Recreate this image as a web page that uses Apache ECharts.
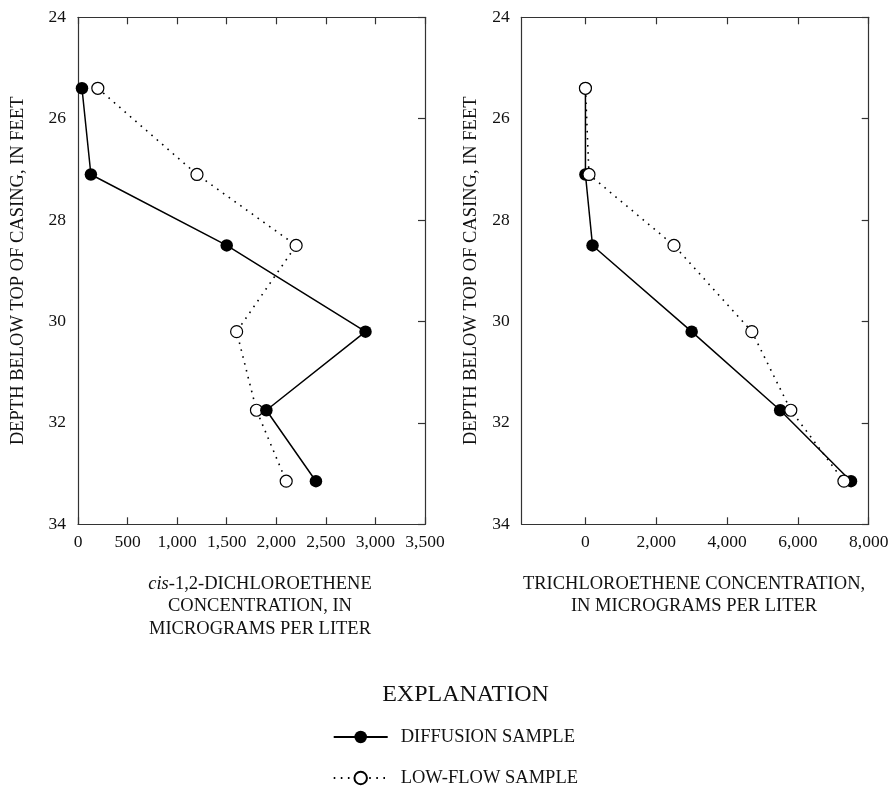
<!DOCTYPE html>
<html>
<head>
<meta charset="utf-8">
<script src="https://cdn.jsdelivr.net/npm/echarts@6/dist/echarts.min.js"></script>
<style>
html,body{margin:0;padding:0;background:#fff;}
#chart{width:893px;height:792px;}
</style>
</head>
<body>
<div id="chart"></div>
<script>
// ---- data ----
var depths = [25.4, 27.1, 28.5, 30.2, 31.75, 33.15];
var dceDiffusion = [40, 130, 1500, 2900, 1900, 2400];
var dceLowFlow = [200, 1200, 2200, 1600, 1800, 2100];
var tceDiffusion = [0, 0, 200, 3000, 5500, 7500];
var tceLowFlow = [0, 100, 2500, 4700, 5800, 7300];
var depthTicks = [24, 26, 28, 30, 32, 34];
var dceTicks = [0, 500, 1000, 1500, 2000, 2500, 3000, 3500];
var tceTicks = [0, 2000, 4000, 6000, 8000];
var seriesNames = ['DIFFUSION SAMPLE', 'LOW-FLOW SAMPLE'];

var FONT = 'Liberation Serif, Times New Roman, serif';
var AX = '#333';

function pairs(xs) { return xs.map(function (x, i) { return [x, depths[i]]; }); }
function fmt(v) { return Number(v).toLocaleString('en-US'); }

function xAxisBottom(gi, min, max, ticks) {
  return {
    gridIndex: gi, type: 'value', position: 'bottom', min: min, max: max,
    axisLine: { show: true, onZero: false, lineStyle: { color: AX, width: 1.2 } },
    axisTick: { show: true, inside: true, length: 7, customValues: ticks, lineStyle: { color: AX, width: 1.2 } },
    axisLabel: { show: true, margin: 9, customValues: ticks, formatter: fmt, color: '#111', fontFamily: FONT, fontSize: 17.5 },
    splitLine: { show: false }
  };
}
function xAxisTop(gi, min, max, ticks) {
  return {
    gridIndex: gi, type: 'value', position: 'top', min: min, max: max,
    axisLine: { show: true, onZero: false, lineStyle: { color: AX, width: 1.2 } },
    axisTick: { show: true, inside: true, length: 7, customValues: ticks, lineStyle: { color: AX, width: 1.2 } },
    axisLabel: { show: false, customValues: ticks },
    splitLine: { show: false }
  };
}
function yAxisLeft(gi, nameGap) {
  return {
    gridIndex: gi, type: 'value', position: 'left', inverse: true, min: 24, max: 34,
    name: 'DEPTH BELOW TOP OF CASING, IN FEET', nameLocation: 'middle', nameRotate: 90, nameGap: nameGap,
    nameTextStyle: { fontFamily: FONT, fontSize: 18.5, color: '#111' },
    axisLine: { show: true, onZero: false, lineStyle: { color: AX, width: 1.2 } },
    axisTick: { show: false, customValues: depthTicks },
    axisLabel: { show: true, margin: 12, customValues: depthTicks, color: '#111', fontFamily: FONT, fontSize: 17.5 },
    splitLine: { show: false }
  };
}
function yAxisRight(gi) {
  return {
    gridIndex: gi, type: 'value', position: 'right', inverse: true, min: 24, max: 34,
    axisLine: { show: true, onZero: false, lineStyle: { color: AX, width: 1.2 } },
    axisTick: { show: true, inside: true, length: 7, customValues: depthTicks, lineStyle: { color: AX, width: 1.2 } },
    axisLabel: { show: false, customValues: depthTicks },
    splitLine: { show: false }
  };
}

function diffusionSeries(xi, yi, data) {
  return {
    name: seriesNames[0], type: 'line', xAxisIndex: xi, yAxisIndex: yi, data: data,
    symbol: 'circle', symbolSize: 12.5, silent: true, animation: false,
    itemStyle: { color: '#000' },
    lineStyle: { color: '#000', width: 1.5, type: 'solid' }
  };
}
function lowFlowSeries(xi, yi, data) {
  return {
    name: seriesNames[1], type: 'line', xAxisIndex: xi, yAxisIndex: yi, data: data,
    symbol: 'circle', symbolSize: 12, silent: true, animation: false,
    itemStyle: { color: '#fff', borderColor: '#000', borderWidth: 1.2 },
    lineStyle: { color: '#000', width: 1.6, type: [1.6, 5.5] }
  };
}

function legendFor(name, top) {
  return {
    data: [name],
    orient: 'vertical',
    left: 332.7,
    top: top,
    itemWidth: 54,
    itemHeight: 15.6,
    selectedMode: false,
    padding: 0,
    textStyle: { fontFamily: FONT, fontSize: 18.5, color: '#111', padding: [0, 0, 0, 8] }
  };
}

var chart = echarts.init(document.getElementById('chart'), null, { renderer: 'canvas' });
var option = {
  backgroundColor: '#fff',
  animation: false,
  grid: [
    { left: 78, top: 17.3, width: 347, height: 507 },
    { left: 521.7, top: 17.3, width: 347, height: 507 }
  ],
  xAxis: [
    xAxisBottom(0, 0, 3500, dceTicks),
    xAxisTop(0, 0, 3500, dceTicks),
    xAxisBottom(1, -1800, 8000, tceTicks),
    xAxisTop(1, -1800, 8000, tceTicks)
  ],
  yAxis: [
    yAxisLeft(0, 50),
    yAxisRight(0),
    yAxisLeft(1, 41),
    yAxisRight(1)
  ],
  legend: [
    legendFor(seriesNames[0], 727.5),
    legendFor(seriesNames[1], 768.5)
  ],
  graphic: [
    {
      type: 'text', x: 260, y: 572.7, silent: true,
      style: {
        text: '{i|cis}-1,2-DICHLOROETHENE\nCONCENTRATION, IN\nMICROGRAMS PER LITER',
        align: 'center', verticalAlign: 'top', lineHeight: 22.6,
        fontFamily: FONT, fontSize: 18.5, fill: '#111',
        rich: { i: { fontStyle: 'italic', fontFamily: FONT, fontSize: 18.5, lineHeight: 22.6 } }
      }
    },
    {
      type: 'text', x: 694, y: 572.7, silent: true,
      style: {
        text: 'TRICHLOROETHENE CONCENTRATION,\nIN MICROGRAMS PER LITER',
        align: 'center', verticalAlign: 'top', lineHeight: 22.6,
        fontFamily: FONT, fontSize: 18.5, fill: '#111'
      }
    },
    {
      type: 'text', x: 465.5, y: 695, silent: true,
      style: {
        text: 'EXPLANATION', align: 'center', verticalAlign: 'middle',
        fontFamily: FONT, fontSize: 24, fill: '#111'
      }
    }
  ],
  series: [
    lowFlowSeries(0, 0, pairs(dceLowFlow)),
    diffusionSeries(0, 0, pairs(dceDiffusion)),
    diffusionSeries(2, 2, pairs(tceDiffusion)),
    lowFlowSeries(2, 2, pairs(tceLowFlow))
  ]
};
chart.setOption(option);
</script>
</body>
</html>
